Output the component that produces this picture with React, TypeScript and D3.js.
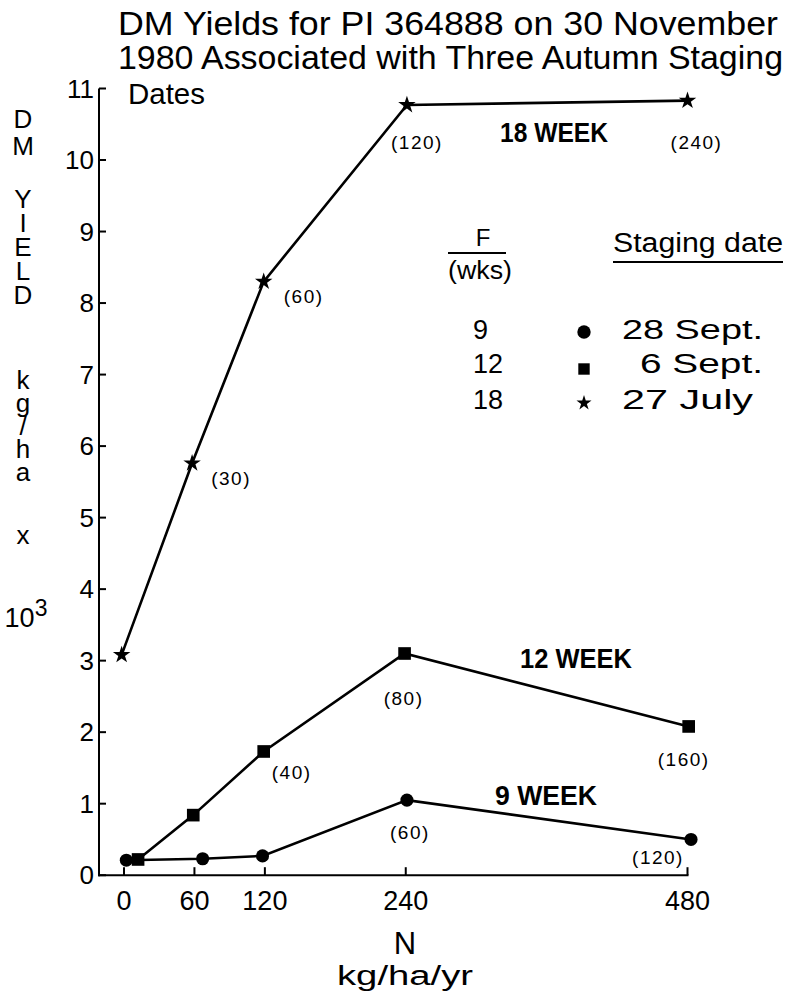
import React from "react";
import * as d3 from "d3";

// ---------- data ----------
const titleLines = [
  "DM Yields for PI 364888 on 30 November",
  "1980 Associated with Three Autumn Staging",
  "Dates",
];
const xTicks = [0, 60, 120, 240, 480];
const yTicks = [0, 1, 2, 3, 4, 5, 6, 7, 8, 9, 10, 11];

const week9N = [2, 67, 118, 241, 483];
const week9Y = [0.21, 0.23, 0.27, 1.05, 0.5];
const week9Labels = ["", "", "", "(60)", "(120)"];

const week12N = [12, 59, 119, 239, 481];
const week12Y = [0.22, 0.84, 1.73, 3.1, 2.08];
const week12Labels = ["", "", "(40)", "(80)", "(160)"];

const week18N = [-2, 58, 119, 241, 480];
const week18Y = [3.08, 5.76, 8.3, 10.77, 10.83];
const week18Labels = ["", "(30)", "(60)", "(120)", "(240)"];

const seriesNames = ["9 WEEK", "12 WEEK", "18 WEEK"];
const legendWeeks = ["9", "12", "18"];
const legendDates = ["28 Sept.", "6 Sept.", "27 July"];
const yWords = ["DM", "YIELD", "kg/ha", "x"];

// ---------- layout ----------
const FONT = "'Liberation Sans', Arial, sans-serif";
const x = d3.scaleLinear().domain([0, 480]).range([124, 687.5]);
const y = d3.scaleLinear().domain([0, 11]).range([875.2, 88.5]);

const labelOffsets9 = [null, null, null, [3, 39], [-33, 25]];
const labelOffsets12 = [null, null, [28, 28], [-1, 52], [-5, 40]];
const labelOffsets18 = [null, [39, 22], [40, 21], [10, 44], [9, 48]];
const namePos = [
  [546, 805, 102],
  [576, 668, 112],
  [554, 142, 108],
];
// [top y, letter spacing]
const yWordPos = [
  [104, -3],
  [184, -6],
  [365, -7],
  [520, 0],
];

const circle = d3.symbol().type(d3.symbolCircle).size(135)();
const square = d3.symbol().type(d3.symbolSquare).size(160)();
const star = d3.symbol().type(d3.symbolStar).size(95)();
const circleSm = d3.symbol().type(d3.symbolCircle).size(140)();
const squareSm = d3.symbol().type(d3.symbolSquare).size(130)();
const starSm = d3.symbol().type(d3.symbolStar).size(70)();

const line = d3
  .line<[number, number]>()
  .x((d) => x(d[0]))
  .y((d) => y(d[1]));

function Series({
  ns,
  ys,
  labels,
  offsets,
  marker,
}: {
  ns: number[];
  ys: number[];
  labels: string[];
  offsets: (number[] | null)[];
  marker: string;
}) {
  const pts = ns.map((n, i) => [n, ys[i]] as [number, number]);
  return (
    <g>
      <path d={line(pts) || ""} fill="none" stroke="#000" strokeWidth={2.6} />
      {pts.map((p, i) => (
        <path key={i} d={marker} transform={`translate(${x(p[0])},${y(p[1])})`} fill="#000" />
      ))}
      {pts.map((p, i) =>
        labels[i] && offsets[i] ? (
          <text
            key={"l" + i}
            x={x(p[0]) + (offsets[i] as number[])[0]}
            y={y(p[1]) + (offsets[i] as number[])[1]}
            textAnchor="middle"
            fontFamily={FONT}
            fontSize={19}
            letterSpacing={1.5}
            fill="#000"
          >
            {labels[i]}
          </text>
        ) : null
      )}
    </g>
  );
}

export default function App() {
  return (
    <svg
      width={791}
      height={996}
      style={{ position: "absolute", left: 0, top: 0, background: "#fff" }}
    >
      <rect width={791} height={996} fill="#fff" />
      {/* title */}
      <text x={118} y={35} fontFamily={FONT} fontSize={33} textLength={660} lengthAdjust="spacingAndGlyphs">
        {titleLines[0]}
      </text>
      <text x={118} y={69} fontFamily={FONT} fontSize={33} textLength={665} lengthAdjust="spacingAndGlyphs">
        {titleLines[1]}
      </text>
      <text x={128} y={104} fontFamily={FONT} fontSize={30} textLength={77} lengthAdjust="spacingAndGlyphs">
        {titleLines[2]}
      </text>

      {/* axes */}
      <line x1={99} x2={99} y1={y(11)} y2={y(0) + 1} stroke="#000" strokeWidth={2} />
      <line x1={98} x2={x(480) + 1} y1={y(0)} y2={y(0)} stroke="#000" strokeWidth={2} />
      {yTicks.map((t) => (
        <g key={"yt" + t}>
          <line x1={99} x2={106} y1={y(t)} y2={y(t)} stroke="#000" strokeWidth={2} />
          <text x={94} y={y(t) + 9} textAnchor="end" fontFamily={FONT} fontSize={26} fill="#000">
            {t}
          </text>
        </g>
      ))}
      {xTicks.map((t) => (
        <g key={"xt" + t}>
          <line x1={x(t)} x2={x(t)} y1={y(0)} y2={y(0) - 8} stroke="#000" strokeWidth={2} />
          <text x={x(t)} y={910} textAnchor="middle" fontFamily={FONT} fontSize={27} fill="#000">
            {t}
          </text>
        </g>
      ))}

      {/* axis titles */}
      <text x={405} y={954} textAnchor="middle" fontFamily={FONT} fontSize={31}>
        N
      </text>
      <text x={405} y={985} textAnchor="middle" fontFamily={FONT} fontSize={27} textLength={136} lengthAdjust="spacingAndGlyphs">
        kg/ha/yr
      </text>
      {yWords.map((w, i) => (
        <text
          key={"yw" + i}
          x={23}
          y={yWordPos[i][0]}
          fontFamily={FONT}
          fontSize={26}
          letterSpacing={yWordPos[i][1]}
          style={{ writingMode: "vertical-rl", textOrientation: "upright" } as any}
        >
          {w}
        </text>
      ))}
      <text x={26} y={627} textAnchor="middle" fontFamily={FONT} fontSize={27}>
        10<tspan dy={-11} fontSize={23}>3</tspan>
      </text>

      {/* series */}
      <Series ns={week9N} ys={week9Y} labels={week9Labels} offsets={labelOffsets9} marker={circle} />
      <Series ns={week12N} ys={week12Y} labels={week12Labels} offsets={labelOffsets12} marker={square} />
      <Series ns={week18N} ys={week18Y} labels={week18Labels} offsets={labelOffsets18} marker={star} />

      {seriesNames.map((s, i) => (
        <text
          key={s}
          x={namePos[i][0]}
          y={namePos[i][1]}
          textAnchor="middle"
          fontFamily={FONT}
          fontWeight="bold"
          fontSize={27}
          textLength={namePos[i][2]}
          lengthAdjust="spacingAndGlyphs"
        >
          {s}
        </text>
      ))}

      {/* legend */}
      <text x={483} y={246} textAnchor="middle" fontFamily={FONT} fontSize={24}>
        F
      </text>
      <line x1={448} x2={506} y1={253} y2={253} stroke="#000" strokeWidth={2} />
      <text x={480} y={279} textAnchor="middle" fontFamily={FONT} fontSize={25} textLength={64} lengthAdjust="spacingAndGlyphs">
        (wks)
      </text>
      <text x={613} y={252} fontFamily={FONT} fontSize={27} textLength={170} lengthAdjust="spacingAndGlyphs">
        Staging date
      </text>
      <line x1={613} x2={783} y1={262} y2={262} stroke="#000" strokeWidth={2} />
      {legendWeeks.map((w, i) => (
        <text key={"lw" + i} x={473} y={[339, 373, 409][i]} fontFamily={FONT} fontSize={27}>
          {w}
        </text>
      ))}
      <path d={circleSm} transform="translate(584,332)" fill="#000" />
      <path d={squareSm} transform="translate(584,369)" fill="#000" />
      <path d={starSm} transform="translate(584,403)" fill="#000" />
      {legendDates.map((d, i) => (
        <text
          key={"ld" + i}
          x={[622, 640, 622][i]}
          y={[339, 373, 409][i]}
          fontFamily={FONT}
          fontSize={27}
          textLength={[141, 123, 131][i]}
          lengthAdjust="spacingAndGlyphs"
        >
          {d}
        </text>
      ))}
    </svg>
  );
}
